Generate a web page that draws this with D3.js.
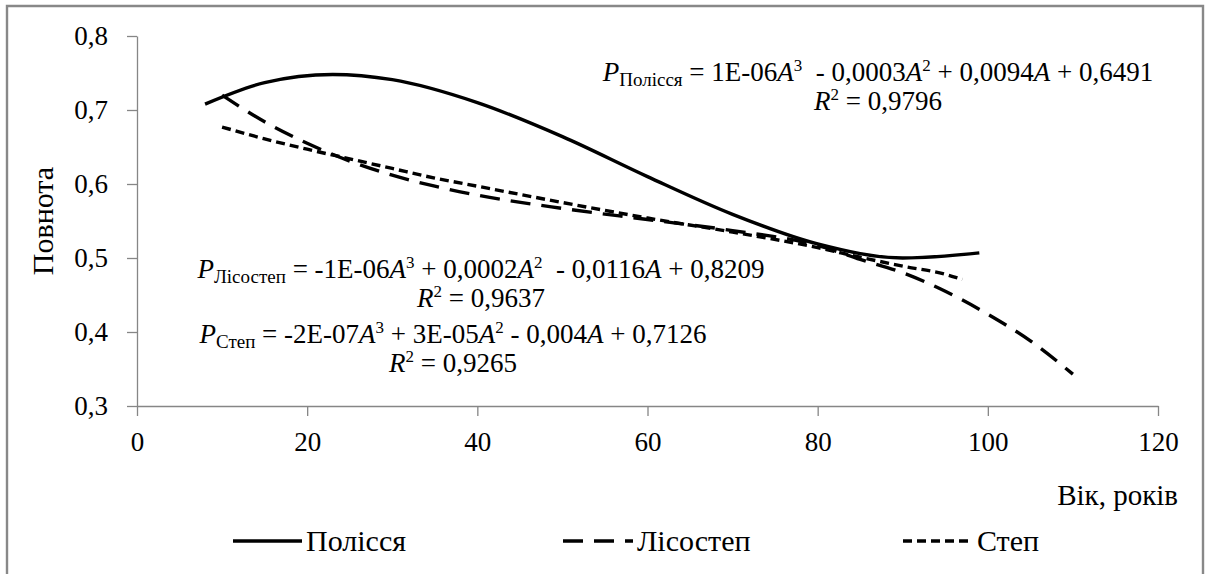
<!DOCTYPE html>
<html>
<head>
<meta charset="utf-8">
<script src="https://cdn.jsdelivr.net/npm/d3@7"></script>
<style>
  body { margin: 0; background: #fff; }
</style>
</head>
<body>
<script>
// Values (age in years, stand density)
const polissiaAge = [8, 15, 23, 30, 40, 50, 60, 70, 80, 90, 99];
const polissiaVal = [0.708, 0.737, 0.748, 0.741, 0.710, 0.664, 0.610, 0.559, 0.519, 0.500, 0.507];

const lisostepAge = [10, 15, 20, 25, 30, 35, 40, 50, 60, 70, 80, 85, 90, 95, 100, 105, 110];
const lisostepVal = [0.720, 0.684, 0.655, 0.631, 0.612, 0.597, 0.585, 0.567, 0.552, 0.537, 0.517, 0.498, 0.480, 0.455, 0.424, 0.388, 0.343];

const stepAge = [10, 15, 20, 25, 30, 35, 40, 50, 60, 70, 80, 85, 90, 95, 97];
const stepVal = [0.677, 0.661, 0.647, 0.634, 0.621, 0.608, 0.597, 0.575, 0.554, 0.535, 0.514, 0.501, 0.489, 0.478, 0.471];

const xTicks = [0, 20, 40, 60, 80, 100, 120];
const yTicks = [0.3, 0.4, 0.5, 0.6, 0.7, 0.8];

const seriesNames = ["Полісся", "Лісостеп", "Степ"];

const width = 1205;
const height = 574;
const serif = "'Times New Roman', 'Liberation Serif', 'DejaVu Serif', serif";

const svg = d3.select("body").append("svg")
  .attr("width", width)
  .attr("height", height)
  .style("font-family", serif);

// outer frame of the chart
svg.append("path")
  .attr("d", "M7,580V6H1203V580")
  .attr("fill", "none")
  .attr("stroke", "#888")
  .attr("stroke-width", 2.4);

const x = d3.scaleLinear().domain([0, 120]).range([137, 1158]);
const y = d3.scaleLinear().domain([0.3, 0.8]).range([406, 36]);

const comma = d => d3.format(".1f")(d).replace(".", ",");

// axes
const gx = svg.append("g")
  .attr("transform", `translate(0,${y(0.3)})`)
  .call(d3.axisBottom(x).tickValues(xTicks).tickSize(10).tickSizeOuter(0).tickPadding(16));

const gy = svg.append("g")
  .attr("transform", `translate(${x(0)},0)`)
  .call(d3.axisLeft(y).tickValues(yTicks).tickFormat(comma).tickSize(10).tickSizeOuter(0).tickPadding(19));

[gx, gy].forEach(g => {
  g.attr("font-family", null).attr("font-size", 27);
  g.select(".domain").attr("stroke", "#868686").attr("stroke-width", 1.3);
  g.selectAll(".tick line").attr("stroke", "#868686").attr("stroke-width", 1.3);
  g.selectAll(".tick text").attr("fill", "#000");
});

// axis titles
svg.append("text")
  .attr("x", 1178)
  .attr("y", 505)
  .attr("text-anchor", "end")
  .attr("font-size", 29)
  .text("Вік, років");

svg.append("text")
  .attr("transform", `translate(53,${(y(0.3) + y(0.8)) / 2}) rotate(-90)`)
  .attr("text-anchor", "middle")
  .attr("font-size", 30)
  .text("Повнота");

// curves
const line = d3.line()
  .x(d => x(d[0]))
  .y(d => y(d[1]))
  .curve(d3.curveMonotoneX);

const series = [
  { name: seriesNames[0], data: d3.zip(polissiaAge, polissiaVal), dash: null },
  { name: seriesNames[1], data: d3.zip(lisostepAge, lisostepVal), dash: "20,11" },
  { name: seriesNames[2], data: d3.zip(stepAge, stepVal), dash: "9,5" }
];

svg.selectAll(".curve")
  .data(series)
  .enter().append("path")
  .attr("class", "curve")
  .attr("d", d => line(d.data))
  .attr("fill", "none")
  .attr("stroke", "#000")
  .attr("stroke-width", 3.4)
  .attr("stroke-dasharray", d => d.dash);

// trendline equations: pieces are [text, kind], kind "i" italic, "sup", "sub"
function equation(cx, cy, sub, parts, r2) {
  const t = svg.append("text")
    .attr("x", cx)
    .attr("y", cy)
    .attr("text-anchor", "middle")
    .attr("font-size", 27)
    .style("white-space", "pre");
  let shift = 0;
  const piece = (txt, kind) => {
    const target = kind === "sup" ? -10 : kind === "sub" ? 5 : 0;
    const s = t.append("tspan").attr("dy", target - shift).text(txt);
    shift = target;
    if (kind === "sup") s.attr("font-size", 17);
    if (kind === "sub") s.attr("font-size", 19);
    if (kind === "i") s.attr("font-style", "italic");
  };
  piece("P", "i");
  piece(sub, "sub");
  parts.forEach(p => piece(p[0], p[1]));

  const r = svg.append("text")
    .attr("x", cx)
    .attr("y", cy + 29)
    .attr("text-anchor", "middle")
    .attr("font-size", 27)
    .style("white-space", "pre");
  r.append("tspan").attr("font-style", "italic").text("R");
  r.append("tspan").attr("dy", -10).attr("font-size", 17).text("2");
  r.append("tspan").attr("dy", 10).text(" = " + r2);
}

equation(878, 81, "Полісся", [
  [" = 1E-06", ""], ["A", "i"], ["3", "sup"],
  ["  - 0,0003", ""], ["A", "i"], ["2", "sup"],
  [" + 0,0094", ""], ["A", "i"], [" + 0,6491", ""]
], "0,9796");

equation(481, 278, "Лісостеп", [
  [" = -1E-06", ""], ["A", "i"], ["3", "sup"],
  [" + 0,0002", ""], ["A", "i"], ["2", "sup"],
  ["  - 0,0116", ""], ["A", "i"], [" + 0,8209", ""]
], "0,9637");

equation(453, 343, "Степ", [
  [" = -2E-07", ""], ["A", "i"], ["3", "sup"],
  [" + 3E-05", ""], ["A", "i"], ["2", "sup"],
  [" - 0,004", ""], ["A", "i"], [" + 0,7126", ""]
], "0,9265");

// legend
const legend = [
  { name: seriesNames[0], x0: 233, x1: 302, dash: null },
  { name: seriesNames[1], x0: 563, x1: 633, dash: "20,11" },
  { name: seriesNames[2], x0: 903, x1: 973, dash: "9,5" }
];

const lg = svg.selectAll(".legend")
  .data(legend)
  .enter().append("g")
  .attr("class", "legend");

lg.append("line")
  .attr("x1", d => d.x0)
  .attr("x2", d => d.x1)
  .attr("y1", 541)
  .attr("y2", 541)
  .attr("stroke", "#000")
  .attr("stroke-width", 3.4)
  .attr("stroke-dasharray", d => d.dash);

lg.append("text")
  .attr("x", d => d.x1 + 4)
  .attr("y", 551)
  .attr("font-size", 30)
  .text(d => d.name);
</script>
</body>
</html>
